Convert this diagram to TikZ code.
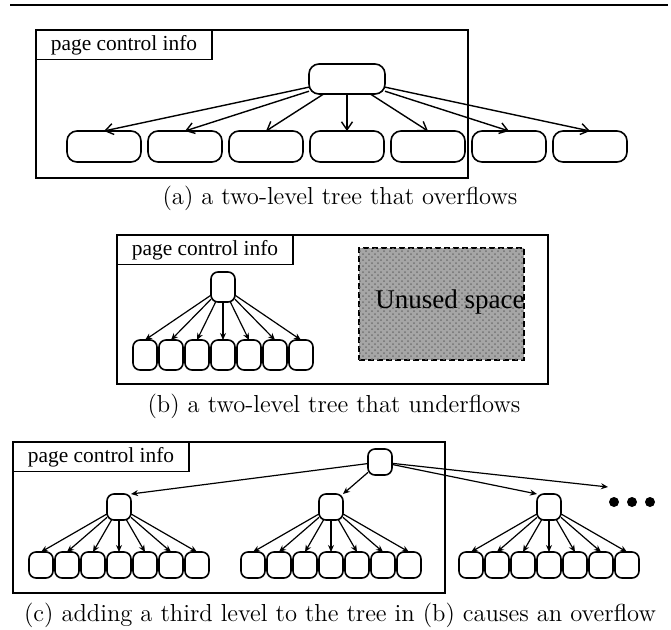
\documentclass[tikz,border=0pt]{standalone}
\usepackage{fontspec}
\newfontfamily\timesf{Liberation Serif}
\usetikzlibrary{arrows.meta,patterns}
\begin{document}
\begin{tikzpicture}[x=0.5pt,y=-0.5pt,
  frame/.style={draw,line width=0.75pt,anchor=north west,inner sep=0pt,outer sep=0pt},
  lbl/.style={draw,line width=0.75pt,anchor=north west,inner sep=0pt,outer sep=0pt,
    minimum width=88pt,minimum height=14.8pt,font=\timesf\fontsize{10.7pt}{12pt}\selectfont},
  captext/.style={font=\fontsize{12.3pt}{14pt}\selectfont,inner sep=0pt},
  leafa/.style={draw,line width=0.8pt,rounded corners=5pt,minimum width=37pt,minimum height=15.5pt,inner sep=0pt,outer sep=0pt},
  roota/.style={leafa,minimum width=38pt,minimum height=15pt},
  nodeb/.style={draw,line width=0.8pt,rounded corners=3.5pt,minimum width=12pt,minimum height=15pt,inner sep=0pt,outer sep=0pt},
  nodec/.style={nodeb,minimum height=13pt},
  arra/.style={draw,line width=0.7pt,-{Straight Barb[length=4pt,width=5.5pt]}},
  arrb/.style={draw,line width=0.6pt,-{Stealth[length=3.5pt,width=3pt]}},
  unused/.style={draw,dashed,dash pattern=on 3pt off 1.5pt,line width=0.8pt,fill=black!35,anchor=north west,
    minimum width=82.5pt,minimum height=56pt,inner sep=0pt,outer sep=0pt,
    postaction={pattern=crosshatch dots,pattern color=black!55}},
  dotnode/.style={circle,fill=black,inner sep=0pt,minimum size=5pt}
]
\useasboundingbox (0,0) rectangle (671,629);
% top rule
\coordinate (r1) at (10,5);
\coordinate (r2) at (668,5);
\draw[line width=1pt] (r1) -- (r2);

% ---------- panel (a)
\node[frame,minimum width=216pt,minimum height=74pt] (boxa) at (36,30) {};
\node[lbl] (lbla) at (36,30) {page control info};
\node[roota] (ra) at (347,79) {};
\foreach \i/\x in {1/104,2/185,3/266,4/347,5/428,6/509,7/590}{
  \node[leafa] (la\i) at (\x,146.5) {};
  \draw[arra] (ra) -- (la\i.north);
}
\node[captext] (capa) at (340,198) {(a) a two-level tree that overflows};

% ---------- panel (b)
\node[frame,minimum width=215.5pt,minimum height=74.5pt] (boxb) at (117,235) {};
\node[lbl] (lblb) at (117,235) {page control info};
\node[nodeb] (rb) at (223,287) {};
\foreach \i/\x in {1/145,2/171,3/197,4/223,5/249,6/275,7/301}{
  \node[nodeb] (lb\i) at (\x,355) {};
  \draw[arrb] (rb) -- (lb\i.north);
}
\node[unused] (un) at (359,248) {};
\node[font=\timesf\fontsize{13.5pt}{15pt}\selectfont,inner sep=0pt] (unt) at (450,302) {Unused space};
\node[captext] (capb) at (334,406) {(b) a two-level tree that underflows};

% ---------- panel (c)
\node[frame,minimum width=216pt,minimum height=75.5pt] (boxc) at (13,442) {};
\node[lbl] (lblc) at (13,442) {page control info};
\node[nodec] (rc) at (380,462) {};
\foreach \k/\X in {1/119,2/331,3/549}{
  \node[nodec] (c\k) at (\X,507) {};
  \foreach \j in {1,...,7}{
    \node[nodec] (l\k\j) at ({\X+26*(\j-4)},565) {};
    \draw[arrb] (c\k) -- (l\k\j.north);
  }
}
\coordinate (dend) at (608,487);
\draw[arrb] (rc) -- (c1.north east);
\draw[arrb] (rc) -- (c2.north east);
\draw[arrb] (rc) -- (c3.north west);
\draw[arrb] (rc) -- (dend);
\node[dotnode] (d1) at (614,502) {};
\node[dotnode] (d2) at (632,502) {};
\node[dotnode] (d3) at (650,502) {};
\node[captext] (capc) at (340,615) {(c) adding a third level to the tree in (b) causes an overflow};
\end{tikzpicture}
\end{document}
